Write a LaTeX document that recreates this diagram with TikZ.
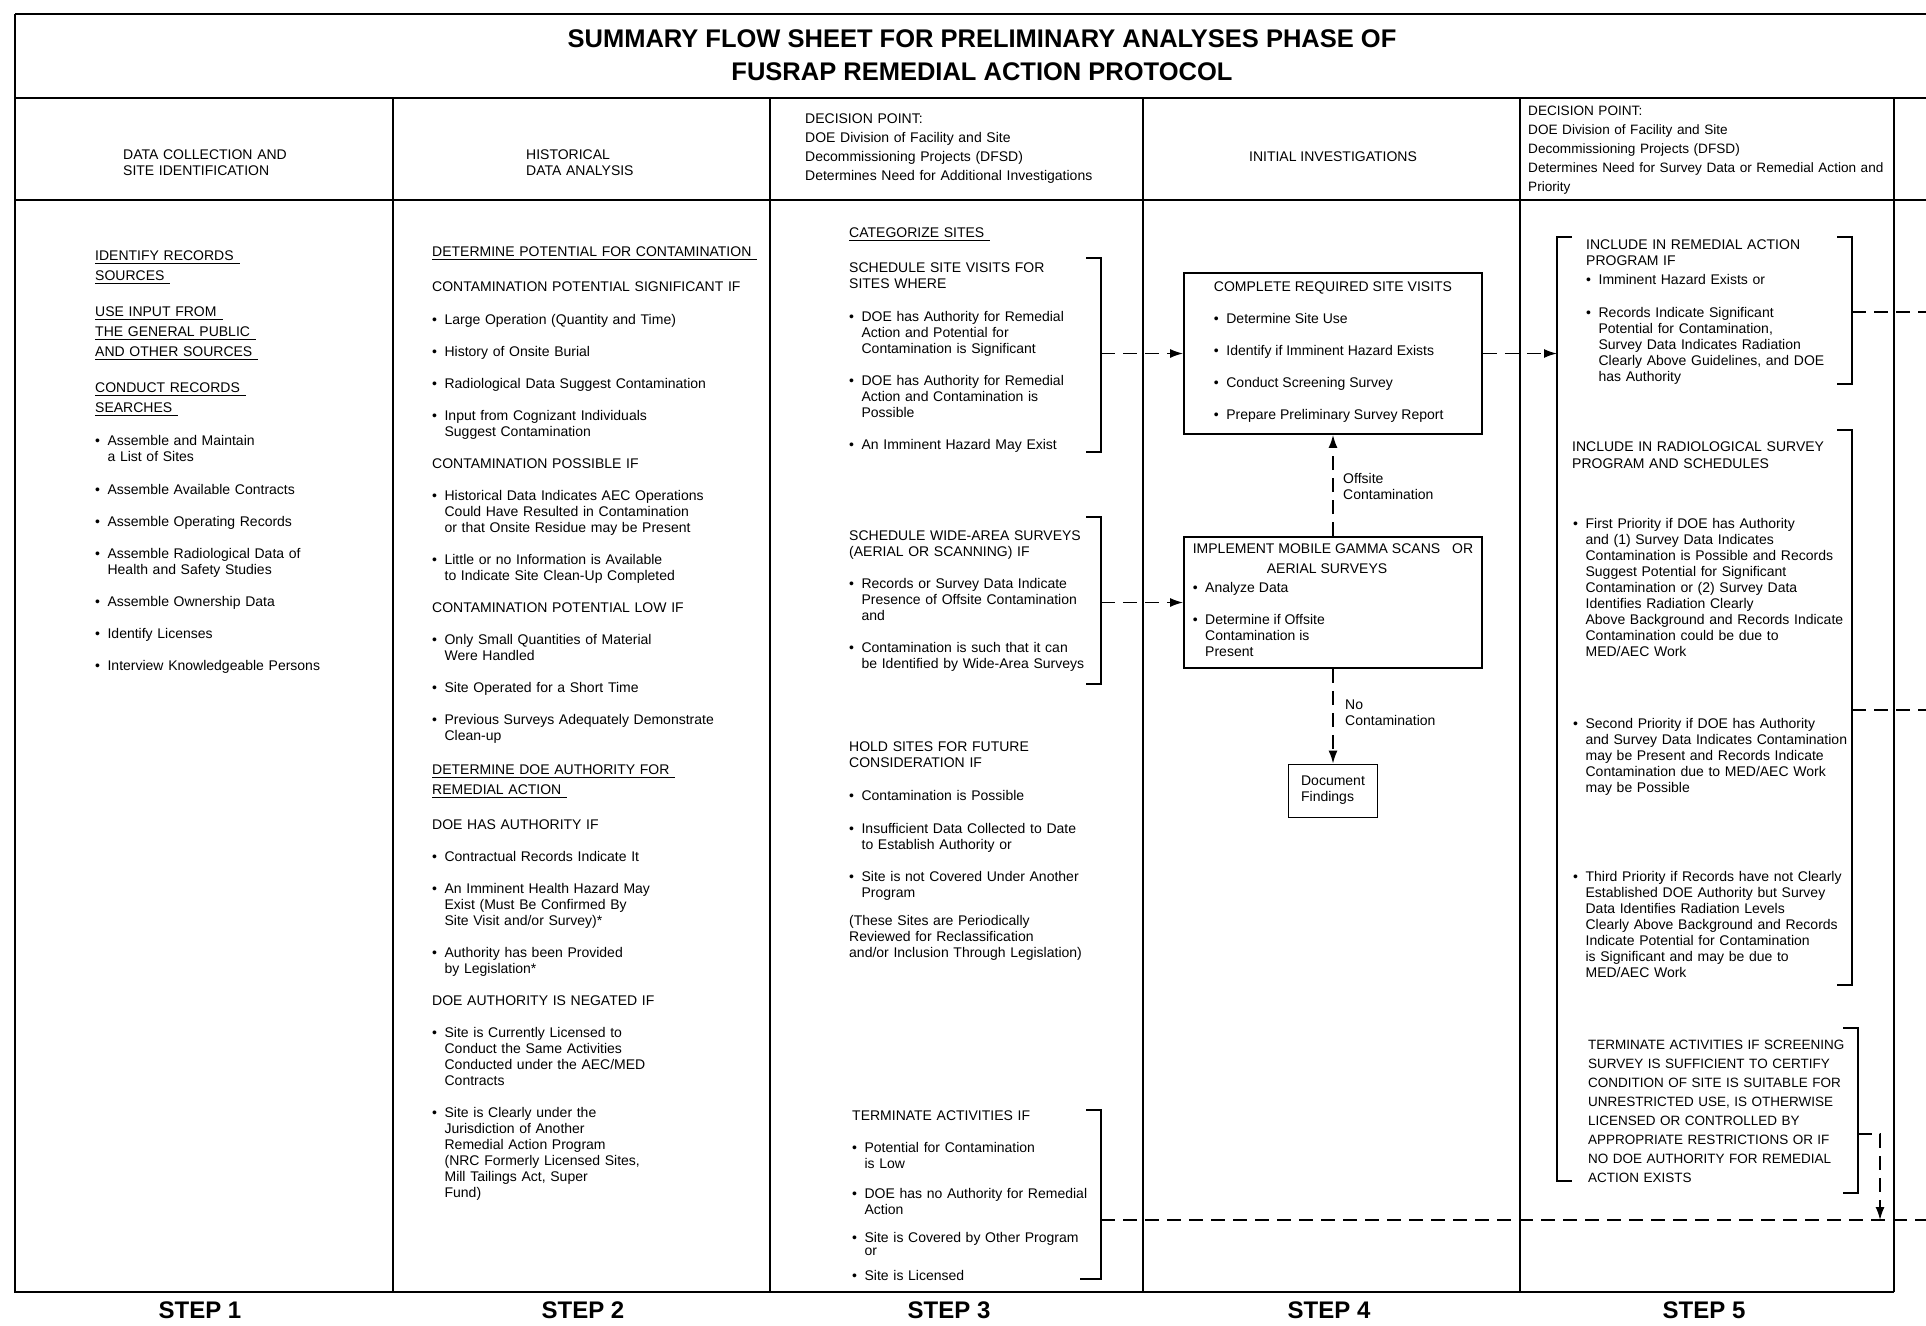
\documentclass[tikz,border=0pt]{standalone}
\usepackage{fontspec}
\setmainfont{Liberation Sans}
\usetikzlibrary{arrows.meta}

\newcommand{\bul}{\leavevmode\textbullet\hspace{7.5pt}}
\newcommand{\ind}{\leavevmode\hphantom{\textbullet\hspace{7.5pt}}}
\newcommand{\ulin}[1]{\leavevmode\setbox0=\hbox{#1}\rlap{\rule[-3.5pt]{\dimexpr\wd0+6pt\relax}{1.3pt}}\box0}

\begin{document}
\begin{tikzpicture}[x=1pt,y=-1pt,
  frame/.style={line width=2pt},
  brack/.style={line width=1.6pt},
  dline/.style={line width=1.6pt,dash pattern=on 14pt off 8pt},
  darrow/.style={dline,-{Latex[length=13pt,width=9pt]}},
  txt/.style={anchor=north west,inner sep=0pt,text width=#1,align=left,
    font=\fontsize{14}{16}\selectfont,execute at begin node=\strut},
  txt/.default=250pt,
  wtxt/.style={txt=#1,font=\fontsize{14}{19}\selectfont},
  wtxt/.default=280pt,
  box/.style={draw,line width=1.8pt,inner sep=0pt,align=left,
    font=\fontsize{14}{16}\selectfont,execute at begin node=\strut},
  steplabel/.style={font=\bfseries\fontsize{24}{28}\selectfont}]
\fill[white] (0,0) rectangle (1926,1325);
\useasboundingbox (0,0) rectangle (1926,1325);

\draw[frame] (15,14) -- (1926,14);
\draw[frame] (15,14) -- (15,1292) -- (1894,1292);
\draw[frame] (15,98) -- (1926,98);
\draw[frame] (15,200) -- (1926,200);
\foreach \x in {393,770,1143,1520,1894}
  \draw[frame] (\x,98) -- (\x,1292);

\node[font=\bfseries\fontsize{25.5}{33}\selectfont,align=center] (title) at (982,55)
  {SUMMARY FLOW SHEET FOR PRELIMINARY ANALYSES PHASE OF\\FUSRAP REMEDIAL ACTION PROTOCOL};

\node[txt=260pt] (head1) at (123,148) {DATA COLLECTION AND\\SITE IDENTIFICATION};
\node[txt=200pt] (head2) at (526,148) {HISTORICAL\\DATA ANALYSIS};
\node[wtxt=330pt] (head3) at (805,110) {DECISION POINT:\\DOE Division of Facility and Site\\Decommissioning Projects (DFSD)\\Determines Need for Additional Investigations};
\node[font=\fontsize{14}{16}\selectfont] (head4) at (1333,157) {INITIAL INVESTIGATIONS};
\node[wtxt=362pt,font=\fontsize{13.6}{19}\selectfont] (head5) at (1528,102) {DECISION POINT:\\DOE Division of Facility and Site\\Decommissioning Projects (DFSD)\\Determines Need for Survey Data or Remedial Action and\\Priority};

% step 1
\node[txt=280pt] (sources) at (95,249) {\ulin{IDENTIFY RECORDS}\\[4pt]
  \ulin{SOURCES}\\[20pt]
  \ulin{USE INPUT FROM}\\[4pt]
  \ulin{THE GENERAL PUBLIC}\\[4pt]
  \ulin{AND OTHER SOURCES}\\[20pt]
  \ulin{CONDUCT RECORDS}\\[4pt]
  \ulin{SEARCHES}\\[17pt]
  \bul Assemble and Maintain\\
  \ind a List of Sites\\[17pt]
  \bul Assemble Available Contracts\\[16pt]
  \bul Assemble Operating Records\\[16pt]
  \bul Assemble Radiological Data of\\
  \ind Health and Safety Studies\\[16pt]
  \bul Assemble Ownership Data\\[16pt]
  \bul Identify Licenses\\[16pt]
  \bul Interview Knowledgeable Persons};

% step 2
\node[txt=335pt] (contam) at (432,245) {\ulin{DETERMINE POTENTIAL FOR CONTAMINATION}\\[19pt]
  CONTAMINATION POTENTIAL SIGNIFICANT IF\\[17pt]
  \bul Large Operation (Quantity and Time)\\[16pt]
  \bul History of Onsite Burial\\[16pt]
  \bul Radiological Data Suggest Contamination\\[16pt]
  \bul Input from Cognizant Individuals\\
  \ind Suggest Contamination\\[16pt]
  CONTAMINATION POSSIBLE IF\\[16pt]
  \bul Historical Data Indicates AEC Operations\\
  \ind Could Have Resulted in Contamination\\
  \ind or that Onsite Residue may be Present\\[16pt]
  \bul Little or no Information is Available\\
  \ind to Indicate Site Clean-Up Completed\\[16pt]
  CONTAMINATION POTENTIAL LOW IF\\[16pt]
  \bul Only Small Quantities of Material\\
  \ind Were Handled\\[16pt]
  \bul Site Operated for a Short Time\\[16pt]
  \bul Previous Surveys Adequately Demonstrate\\
  \ind Clean-up};
\node[txt=335pt] (authority) at (432,763) {\ulin{DETERMINE DOE AUTHORITY FOR}\\[4pt]
  \ulin{REMEDIAL ACTION}\\[19pt]
  DOE HAS AUTHORITY IF\\[16pt]
  \bul Contractual Records Indicate It\\[16pt]
  \bul An Imminent Health Hazard May\\
  \ind Exist (Must Be Confirmed By\\
  \ind Site Visit and/or Survey)*\\[16pt]
  \bul Authority has been Provided\\
  \ind by Legislation*\\[16pt]
  DOE AUTHORITY IS NEGATED IF\\[16pt]
  \bul Site is Currently Licensed to\\
  \ind Conduct the Same Activities\\
  \ind Conducted under the AEC/MED\\
  \ind Contracts\\[16pt]
  \bul Site is Clearly under the\\
  \ind Jurisdiction of Another\\
  \ind Remedial Action Program\\
  \ind (NRC Formerly Licensed Sites,\\
  \ind Mill Tailings Act, Super\\
  \ind Fund)};

% step 3
\node[txt] (categ) at (849,226) {\ulin{CATEGORIZE SITES}};
\node[txt] (visits) at (849,261) {SCHEDULE SITE VISITS FOR\\
  SITES WHERE\\[17pt]
  \bul DOE has Authority for Remedial\\
  \ind Action and Potential for\\
  \ind Contamination is Significant\\[16pt]
  \bul DOE has Authority for Remedial\\
  \ind Action and Contamination is\\
  \ind Possible\\[16pt]
  \bul An Imminent Hazard May Exist};
\node[txt] (wide) at (849,529) {SCHEDULE WIDE-AREA SURVEYS\\
  (AERIAL OR SCANNING) IF\\[16pt]
  \bul Records or Survey Data Indicate\\
  \ind Presence of Offsite Contamination\\
  \ind and\\[16pt]
  \bul Contamination is such that it can\\
  \ind be Identified by Wide-Area Surveys};
\node[txt] (hold) at (849,740) {HOLD SITES FOR FUTURE\\
  CONSIDERATION IF\\[17pt]
  \bul Contamination is Possible\\[17pt]
  \bul Insufficient Data Collected to Date\\
  \ind to Establish Authority or\\[16pt]
  \bul Site is not Covered Under Another\\
  \ind Program\\[12pt]
  (These Sites are Periodically\\
  Reviewed for Reclassification\\
  and/or Inclusion Through Legislation)};
\node[txt] (term) at (852,1109) {TERMINATE ACTIVITIES IF\\[16pt]
  \bul Potential for Contamination\\
  \ind is Low\\[14pt]
  \bul DOE has no Authority for Remedial\\
  \ind Action\\[12pt]
  \bul Site is Covered by Other Program\\[-3pt]
  \ind or\\[9pt]
  \bul Site is Licensed};

\draw[brack] (1086,258) -- (1101,258) -- (1101,452) -- (1086,452);
\draw[brack] (1086,517) -- (1101,517) -- (1101,684) -- (1086,684);
\draw[brack] (1086,1110) -- (1101,1110) -- (1101,1279) -- (1080,1279);
\coordinate (brA) at (1101,353.5);
\coordinate (brB) at (1101,602.5);
\coordinate (brC) at (1101,1220);

% step 4
\node[box,minimum width=298pt,minimum height=161pt] (visitbox) at (1333,353.5)
  {COMPLETE REQUIRED SITE VISITS\\[16pt]
  \bul Determine Site Use\\[16pt]
  \bul Identify if Imminent Hazard Exists\\[16pt]
  \bul Conduct Screening Survey\\[16pt]
  \bul Prepare Preliminary Survey Report};
\node[box,minimum width=298pt,minimum height=131pt] (gammabox) at (1333,602.5)
  {IMPLEMENT MOBILE GAMMA SCANS\hspace{12pt}OR\\[4pt]
  \hspace*{74pt}AERIAL SURVEYS\\[3pt]
  \bul Analyze Data\\[16pt]
  \bul Determine if Offsite\\
  \ind Contamination is\\
  \ind Present};
\node[box,minimum width=89pt,minimum height=53pt] (docbox) at (1333,791)
  {Document\\Findings};
\node[txt=150pt] (offsite) at (1343,472) {Offsite\\Contamination};
\node[txt=150pt] (nocont) at (1345,698) {No\\Contamination};

\draw[darrow] (brA) -- (visitbox.west);
\draw[darrow] (brB) -- (gammabox.west);
\draw[darrow] (gammabox.north) -- (visitbox.south);
\draw[darrow] (gammabox.south) -- (docbox.north);

% step 5
\draw[brack] (1572,237) -- (1557,237) -- (1557,1181) -- (1572,1181);
\draw[brack] (1837,237) -- (1852,237) -- (1852,384) -- (1837,384);
\draw[brack] (1837,430) -- (1852,430) -- (1852,985) -- (1837,985);
\draw[brack] (1843,1028) -- (1858,1028) -- (1858,1193) -- (1843,1193);
\coordinate (inclA) at (1557,353.5);
\coordinate (outA) at (1852,312);
\coordinate (outB) at (1852,710);
\coordinate (outC) at (1858,1134);
\coordinate (dropC) at (1880,1220);
\coordinate (edgeA) at (1926,312);
\coordinate (edgeB) at (1926,710);
\coordinate (edgeC) at (1926,1220);

\node[txt=260pt] (remedial) at (1586,238) {INCLUDE IN REMEDIAL ACTION\\
  PROGRAM IF\\[3pt]
  \bul Imminent Hazard Exists or\\[17pt]
  \bul Records Indicate Significant\\
  \ind Potential for Contamination,\\
  \ind Survey Data Indicates Radiation\\
  \ind Clearly Above Guidelines, and DOE\\
  \ind has Authority};
\node[txt=270pt] (radsurvey) at (1572,440) {INCLUDE IN RADIOLOGICAL SURVEY\\[1pt]
  PROGRAM AND SCHEDULES};
\node[txt=275pt] (firstprio) at (1573,517) {\bul First Priority if DOE has Authority\\
  \ind and (1) Survey Data Indicates\\
  \ind Contamination is Possible and Records\\
  \ind Suggest Potential for Significant\\
  \ind Contamination or (2) Survey Data\\
  \ind Identifies Radiation Clearly\\
  \ind Above Background and Records Indicate\\
  \ind Contamination could be due to\\
  \ind MED/AEC Work};
\node[txt=275pt] (secondprio) at (1573,717) {\bul Second Priority if DOE has Authority\\
  \ind and Survey Data Indicates Contamination\\
  \ind may be Present and Records Indicate\\
  \ind Contamination due to MED/AEC Work\\
  \ind may be Possible};
\node[txt=275pt] (thirdprio) at (1573,870) {\bul Third Priority if Records have not Clearly\\
  \ind Established DOE Authority but Survey\\
  \ind Data Identifies Radiation Levels\\
  \ind Clearly Above Background and Records\\
  \ind Indicate Potential for Contamination\\
  \ind is Significant and may be due to\\
  \ind MED/AEC Work};
\node[wtxt=262pt,font=\fontsize{13.5}{19}\selectfont] (termfive) at (1588,1036)
  {TERMINATE ACTIVITIES IF SCREENING\\
  SURVEY IS SUFFICIENT TO CERTIFY\\
  CONDITION OF SITE IS SUITABLE FOR\\
  UNRESTRICTED USE, IS OTHERWISE\\
  LICENSED OR CONTROLLED BY\\
  APPROPRIATE RESTRICTIONS OR IF\\
  NO DOE AUTHORITY FOR REMEDIAL\\
  ACTION EXISTS};

\draw[darrow] (visitbox.east) -- (inclA);
\draw[dline] (outA) -- (edgeA);
\draw[dline] (outB) -- (edgeB);
\draw[dline] (brC) -- (edgeC);
\draw[darrow] (outC) -| (dropC);

\foreach \x/\n in {200/1,583/2,949/3,1329/4,1704/5}
  \node[steplabel] (step\n) at (\x,1310) {STEP \n};
\end{tikzpicture}
\end{document}
